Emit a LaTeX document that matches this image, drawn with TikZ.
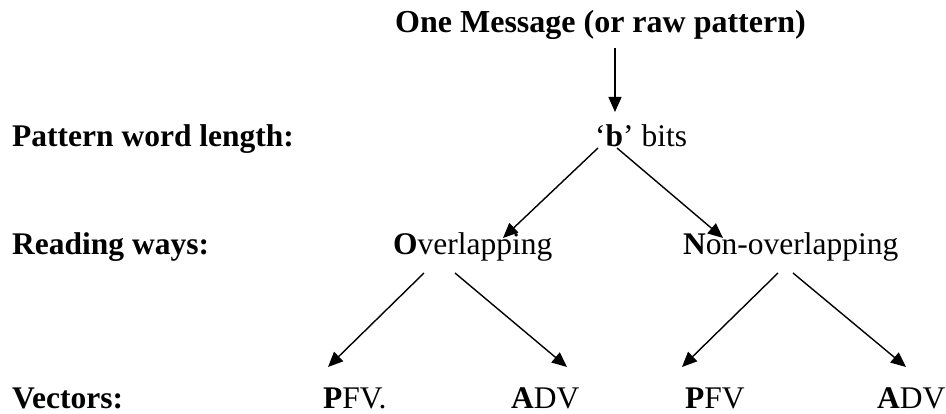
\documentclass[tikz,border=0pt]{standalone}
\usepackage{fontspec}
\setmainfont{Liberation Serif}
\usetikzlibrary{arrows.meta,calc}
\begin{document}
\begin{tikzpicture}[x=1pt,y=-1pt,
  lbl/.style={anchor=base west,inner sep=0pt,font=\fontsize{31.5}{36}\selectfont},
  blbl/.style={lbl,font=\fontsize{31.5}{36}\selectfont\bfseries},
  arr/.style={-{Triangle[length=15pt,width=13pt]},line width=1.4pt}]
\useasboundingbox (0,0) rectangle (946,414);
\node[blbl,font=\fontsize{32}{36}\selectfont\bfseries] (msg) at (395,33) {One Message (or raw pattern)};
\node[blbl] (pwl) at (12,147) {Pattern word length:};
\node[blbl] (rw) at (12,255) {Reading ways:};
\node[blbl] (vec) at (12,408) {Vectors:};
\node[lbl] (bits) at (595,147) {‘\textbf{b}’ bits};
\node[lbl] (over) at (393,255) {\textbf{O}verlapping};
\node[lbl] (non) at (683,255) {\textbf{N}on-overlapping};
\node[lbl] (pfv1) at (323,408) {\textbf{P}FV.};
\node[lbl] (adv1) at (511,408) {\textbf{A}DV};
\node[lbl] (pfv2) at (685,408) {\textbf{P}FV};
\node[lbl] (adv2) at (877,408) {\textbf{A}DV};
\draw[arr] ($(msg.base west)+(220,15)$) -- ($(bits.base west)+(20,-35)$);
\draw[arr] ($(bits.base west)+(3,1)$) -- ($(over.base west)+(110,-17)$);
\draw[arr] ($(bits.base west)+(22,1)$) -- ($(non.base west)+(40,-17)$);
\draw[arr] ($(over.base west)+(31,18)$) -- ($(pfv1.base west)+(5,-41)$);
\draw[arr] ($(over.base west)+(62,18)$) -- ($(adv1.base west)+(56,-41)$);
\draw[arr] ($(non.base west)+(95,18)$) -- ($(pfv2.base west)+(-3,-41)$);
\draw[arr] ($(non.base west)+(110,18)$) -- ($(adv2.base west)+(29,-41)$);
\end{tikzpicture}
\end{document}
